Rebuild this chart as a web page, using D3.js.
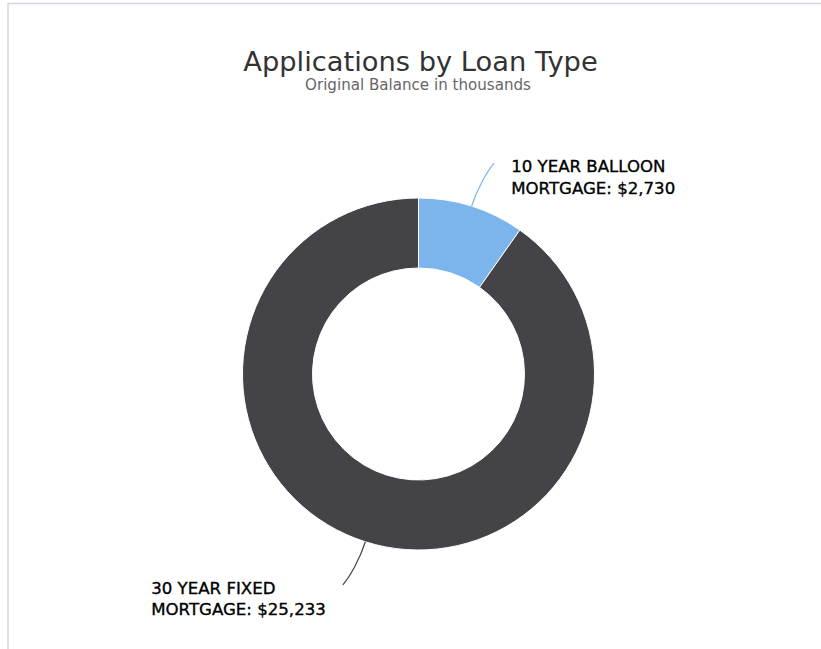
<!DOCTYPE html>
<html>
<head>
<meta charset="utf-8">
<script src="https://cdn.jsdelivr.net/npm/d3@7"></script>
<style>
  html, body { margin: 0; padding: 0; background: #fff; }
  svg { display: block; }
  .title { font-family: "DejaVu Sans", Verdana, sans-serif; font-size: 27.3px; fill: #333; }
  .subtitle { font-family: "DejaVu Sans", Verdana, sans-serif; font-size: 15.1px; fill: #666; }
  .label { font-family: "DejaVu Sans", Verdana, sans-serif; font-size: 16.6px; fill: #000; stroke: #000; stroke-width: 0.35px; }
</style>
</head>
<body>
<div id="chart"></div>
<script>
const WIDTH = 821, HEIGHT = 649;

// data
const categories = ["10 YEAR BALLOON MORTGAGE", "30 YEAR FIXED MORTGAGE"];
const balances = [2730, 25233];
const colors = ["#7cb5ec", "#434348"];

const CX = 418.5, CY = 374, OUTER = 176, INNER = 106;

const svg = d3.select("#chart").append("svg")
  .attr("width", WIDTH).attr("height", HEIGHT);

// frame lines (left + top)
svg.append("path")
  .attr("d", `M8,${HEIGHT} L8,3.5 L${WIDTH},3.5`)
  .attr("fill", "none").attr("stroke", "#d3d6de").attr("stroke-width", 1.5);

svg.append("text").attr("class", "title")
  .attr("x", 420.5).attr("y", 71).attr("text-anchor", "middle")
  .text("Applications by Loan Type");
svg.append("text").attr("class", "subtitle")
  .attr("x", 418).attr("y", 90).attr("text-anchor", "middle")
  .text("Original Balance in thousands");

const pie = d3.pie().sort(null).value(d => d.value);
const slices = pie(categories.map((c, i) => ({ name: c, value: balances[i], color: colors[i] })));

const arc = d3.arc().innerRadius(INNER).outerRadius(OUTER);
const g = svg.append("g").attr("transform", `translate(${CX},${CY})`);

g.selectAll("path.slice").data(slices).enter().append("path")
  .attr("class", "slice")
  .attr("d", arc)
  .attr("fill", d => d.data.color)
  .attr("stroke", "#fff").attr("stroke-width", 1);

const fmt = d3.format(",");
function polar(r, a) { return [r * Math.sin(a), -r * Math.cos(a)]; }

slices.forEach(d => {
  const mid = (d.startAngle + d.endAngle) / 2;
  const right = Math.sin(mid) >= 0;
  const sign = right ? 1 : -1;
  const s = polar(OUTER, mid);
  const e = polar(OUTER + 48, mid + 0.038);
  const c1 = polar(OUTER + 18, mid);
  const c2 = [e[0] - sign * 7, e[1] + (Math.cos(mid) > 0 ? 8 : -8)];
  g.append("path")
    .attr("d", `M${s[0]},${s[1]} C${c1[0]},${c1[1]} ${c2[0]},${c2[1]} ${e[0]},${e[1]}`)
    .attr("fill", "none").attr("stroke", d.data.color).attr("stroke-width", 1.2);

  const words = d.data.name.split(" ");
  const lines = [words.slice(0, -1).join(" "), words[words.length - 1] + ": $" + fmt(d.data.value)];
  const t = g.append("text").attr("class", "label").attr("y", e[1] + 9);
  const spans = lines.map((ln, i) =>
    t.append("tspan").attr("dy", i === 0 ? 0 : 21.5).text(ln));
  // block is left-aligned; on the left side it ends at the connector
  const w = d3.max(spans, sp => sp.node().getComputedTextLength());
  const x0 = right ? e[0] + 17 : e[0] - 17 - w;
  spans.forEach(sp => sp.attr("x", x0));
});
</script>
</body>
</html>
